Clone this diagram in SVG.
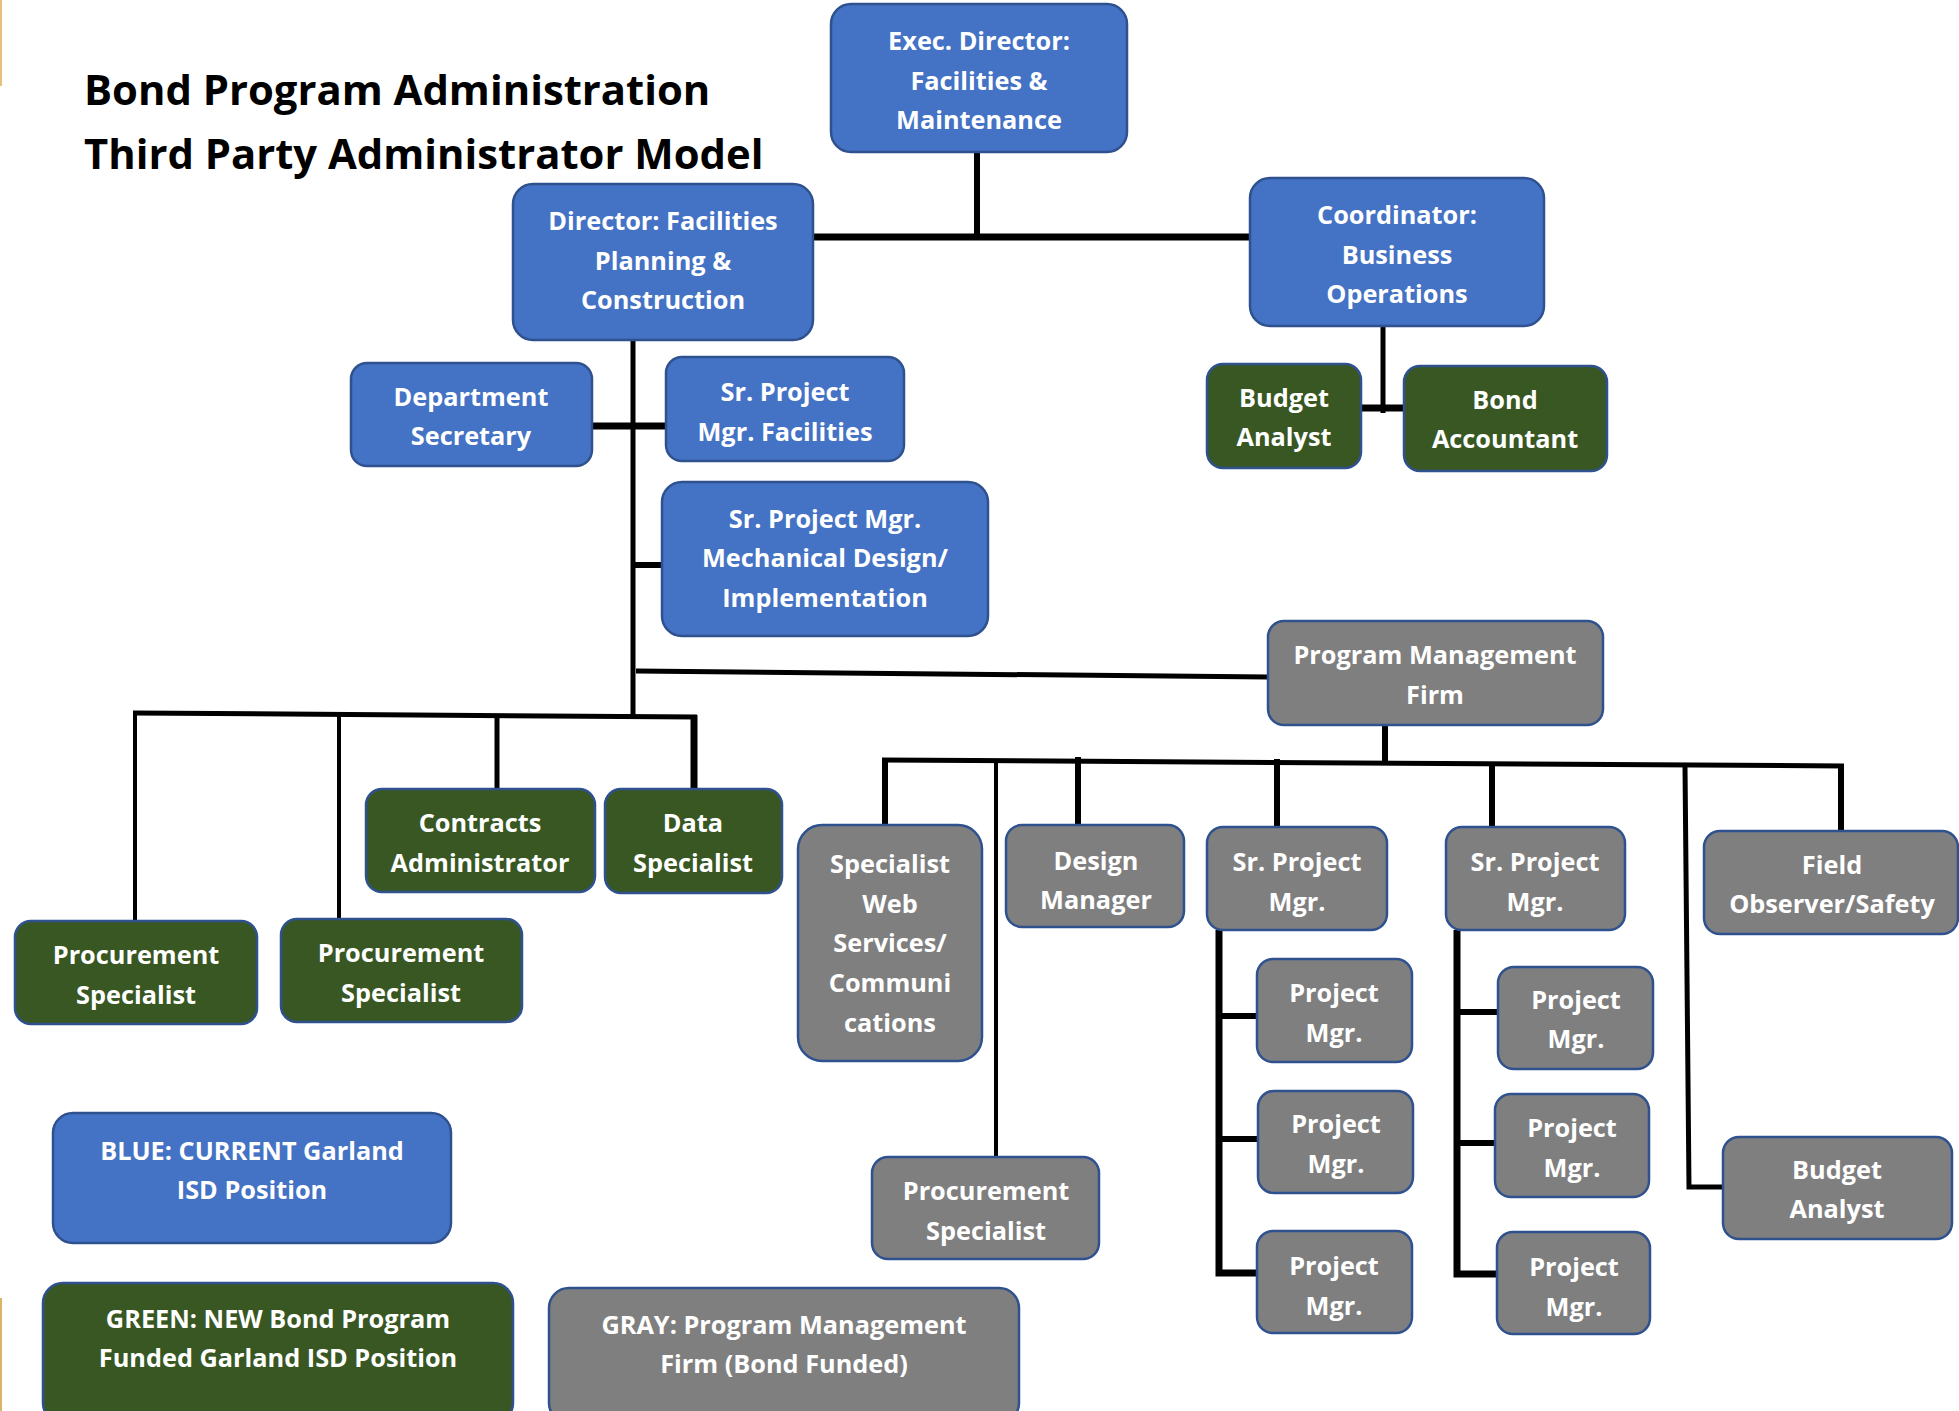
<svg xmlns="http://www.w3.org/2000/svg" width="1959" height="1411" viewBox="0 0 1959 1411">
<style>
.box{stroke:#2F528F;stroke-width:2.5}
.blue{fill:#4472C4}
.green{fill:#385723}
.gray{fill:#7F7F7F}
.t{font-family:"Open Sans","Liberation Sans",sans-serif;font-weight:bold;font-size:25.3px;fill:#FFFFFF;text-anchor:middle}
.title{font-family:"Open Sans","Liberation Sans",sans-serif;font-weight:bold;font-size:41.8px;fill:#000000}
.c{stroke:#000000;fill:none;stroke-linecap:butt;stroke-linejoin:miter}
</style>
<rect width="1959" height="1411" fill="#FFFFFF"/>
<rect x="0" y="0" width="2" height="86" fill="#E6C07C"/>
<rect x="0" y="1298" width="2" height="113" fill="#D9B46A"/>
<g id="title">
<text class="title" x="84" y="105">Bond Program Administration</text>
<text class="title" x="84" y="169">Third Party Administrator Model</text>
</g>
<g id="connectors">
<line class="c" x1="977" y1="152" x2="977" y2="240" stroke-width="6"/>
<line class="c" x1="813" y1="237" x2="1250" y2="237" stroke-width="7"/>
<line class="c" x1="1383" y1="326" x2="1383" y2="413" stroke-width="5"/>
<line class="c" x1="1361" y1="408" x2="1404" y2="408" stroke-width="7"/>
<line class="c" x1="633" y1="340" x2="633" y2="716" stroke-width="5"/>
<line class="c" x1="592" y1="426" x2="666" y2="426" stroke-width="7"/>
<line class="c" x1="633" y1="565" x2="662" y2="565" stroke-width="6"/>
<line class="c" x1="636" y1="671" x2="1268" y2="677" stroke-width="5"/>
<line class="c" x1="133" y1="713" x2="697" y2="717" stroke-width="5"/>
<line class="c" x1="135" y1="711" x2="135" y2="921" stroke-width="4"/>
<line class="c" x1="339" y1="714" x2="339" y2="919" stroke-width="4"/>
<line class="c" x1="497" y1="715" x2="497" y2="789" stroke-width="5"/>
<line class="c" x1="694" y1="715" x2="694" y2="789" stroke-width="7"/>
<line class="c" x1="1385" y1="725" x2="1385" y2="764" stroke-width="6"/>
<line class="c" x1="882" y1="760" x2="1844" y2="766" stroke-width="5"/>
<line class="c" x1="885" y1="758" x2="885" y2="825" stroke-width="6"/>
<line class="c" x1="996" y1="763" x2="996" y2="1157" stroke-width="4"/>
<line class="c" x1="1078" y1="757" x2="1078" y2="825" stroke-width="6"/>
<line class="c" x1="1277" y1="759" x2="1277" y2="827" stroke-width="6"/>
<line class="c" x1="1492" y1="763" x2="1492" y2="830" stroke-width="6"/>
<line class="c" x1="1841" y1="764" x2="1841" y2="831" stroke-width="6"/>
<polyline class="c" points="1685,766 1689,1187 1723,1187" stroke-width="5"/>
<polyline class="c" points="1219,930 1219,1273 1257,1273" stroke-width="7"/>
<line class="c" x1="1219" y1="1016" x2="1257" y2="1016" stroke-width="6"/>
<line class="c" x1="1219" y1="1139" x2="1258" y2="1139" stroke-width="6"/>
<polyline class="c" points="1457,930 1457,1274 1497,1274" stroke-width="7"/>
<line class="c" x1="1457" y1="1012" x2="1498" y2="1012" stroke-width="6"/>
<line class="c" x1="1457" y1="1143" x2="1495" y2="1143" stroke-width="6"/>
</g>
<g id="exec-director">
<rect class="box blue" x="831" y="4" width="296" height="148" rx="20"/>
<text class="t" x="979" y="50">Exec. Director:</text>
<text class="t" x="979" y="90">Facilities &amp;</text>
<text class="t" x="979" y="129">Maintenance</text>
</g>
<g id="director">
<rect class="box blue" x="513" y="184" width="300" height="156" rx="20"/>
<text class="t" x="663" y="230">Director: Facilities</text>
<text class="t" x="663" y="270">Planning &amp;</text>
<text class="t" x="663" y="309">Construction</text>
</g>
<g id="coordinator">
<rect class="box blue" x="1250" y="178" width="294" height="148" rx="20"/>
<text class="t" x="1397" y="224">Coordinator:</text>
<text class="t" x="1397" y="264">Business</text>
<text class="t" x="1397" y="303">Operations</text>
</g>
<g id="budget-analyst-green">
<rect class="box green" x="1207" y="364" width="154" height="104" rx="16"/>
<text class="t" x="1284" y="407">Budget</text>
<text class="t" x="1284" y="446">Analyst</text>
</g>
<g id="bond-accountant">
<rect class="box green" x="1404" y="366" width="203" height="105" rx="16"/>
<text class="t" x="1505" y="409">Bond</text>
<text class="t" x="1505" y="448">Accountant</text>
</g>
<g id="department-secretary">
<rect class="box blue" x="351" y="363" width="241" height="103" rx="16"/>
<text class="t" x="471" y="406">Department</text>
<text class="t" x="471" y="445">Secretary</text>
</g>
<g id="sr-pm-facilities">
<rect class="box blue" x="666" y="357" width="238" height="104" rx="16"/>
<text class="t" x="785" y="401">Sr. Project</text>
<text class="t" x="785" y="441">Mgr. Facilities</text>
</g>
<g id="sr-pm-mechanical">
<rect class="box blue" x="662" y="482" width="326" height="154" rx="20"/>
<text class="t" x="825" y="528">Sr. Project Mgr.</text>
<text class="t" x="825" y="567">Mechanical Design/</text>
<text class="t" x="825" y="607">Implementation</text>
</g>
<g id="program-management-firm">
<rect class="box gray" x="1268" y="621" width="335" height="104" rx="16"/>
<text class="t" x="1435" y="664">Program Management</text>
<text class="t" x="1435" y="704">Firm</text>
</g>
<g id="contracts-administrator">
<rect class="box green" x="366" y="789" width="229" height="103" rx="16"/>
<text class="t" x="480" y="832">Contracts</text>
<text class="t" x="480" y="872">Administrator</text>
</g>
<g id="data-specialist">
<rect class="box green" x="605" y="789" width="177" height="104" rx="16"/>
<text class="t" x="693" y="832">Data</text>
<text class="t" x="693" y="872">Specialist</text>
</g>
<g id="procurement-specialist-1">
<rect class="box green" x="15" y="921" width="242" height="103" rx="16"/>
<text class="t" x="136" y="964">Procurement</text>
<text class="t" x="136" y="1004">Specialist</text>
</g>
<g id="procurement-specialist-2">
<rect class="box green" x="281" y="919" width="241" height="103" rx="16"/>
<text class="t" x="401" y="962">Procurement</text>
<text class="t" x="401" y="1002">Specialist</text>
</g>
<g id="specialist-web">
<rect class="box gray" x="798" y="825" width="184" height="236" rx="24"/>
<text class="t" x="890" y="873">Specialist</text>
<text class="t" x="890" y="913">Web</text>
<text class="t" x="890" y="952">Services/</text>
<text class="t" x="890" y="992">Communi</text>
<text class="t" x="890" y="1032">cations</text>
</g>
<g id="design-manager">
<rect class="box gray" x="1006" y="825" width="178" height="102" rx="16"/>
<text class="t" x="1096" y="870">Design</text>
<text class="t" x="1096" y="909">Manager</text>
</g>
<g id="sr-pm-1">
<rect class="box gray" x="1207" y="827" width="180" height="103" rx="16"/>
<text class="t" x="1297" y="871">Sr. Project</text>
<text class="t" x="1297" y="911">Mgr.</text>
</g>
<g id="sr-pm-2">
<rect class="box gray" x="1446" y="827" width="179" height="103" rx="16"/>
<text class="t" x="1535" y="871">Sr. Project</text>
<text class="t" x="1535" y="911">Mgr.</text>
</g>
<g id="field-observer">
<rect class="box gray" x="1704" y="831" width="254" height="103" rx="16"/>
<text class="t" x="1832" y="874">Field</text>
<text class="t" x="1832" y="913">Observer/Safety</text>
</g>
<g id="pm-1a">
<rect class="box gray" x="1257" y="959" width="155" height="103" rx="16"/>
<text class="t" x="1334" y="1002">Project</text>
<text class="t" x="1334" y="1042">Mgr.</text>
</g>
<g id="pm-1b">
<rect class="box gray" x="1258" y="1091" width="155" height="102" rx="16"/>
<text class="t" x="1336" y="1133">Project</text>
<text class="t" x="1336" y="1173">Mgr.</text>
</g>
<g id="pm-1c">
<rect class="box gray" x="1257" y="1231" width="155" height="102" rx="16"/>
<text class="t" x="1334" y="1275">Project</text>
<text class="t" x="1334" y="1315">Mgr.</text>
</g>
<g id="pm-2a">
<rect class="box gray" x="1498" y="967" width="155" height="102" rx="16"/>
<text class="t" x="1576" y="1009">Project</text>
<text class="t" x="1576" y="1048">Mgr.</text>
</g>
<g id="pm-2b">
<rect class="box gray" x="1495" y="1094" width="154" height="103" rx="16"/>
<text class="t" x="1572" y="1137">Project</text>
<text class="t" x="1572" y="1177">Mgr.</text>
</g>
<g id="pm-2c">
<rect class="box gray" x="1497" y="1232" width="153" height="102" rx="16"/>
<text class="t" x="1574" y="1276">Project</text>
<text class="t" x="1574" y="1316">Mgr.</text>
</g>
<g id="procurement-specialist-gray">
<rect class="box gray" x="872" y="1157" width="227" height="102" rx="16"/>
<text class="t" x="986" y="1200">Procurement</text>
<text class="t" x="986" y="1240">Specialist</text>
</g>
<g id="budget-analyst-gray">
<rect class="box gray" x="1723" y="1137" width="229" height="102" rx="16"/>
<text class="t" x="1837" y="1179">Budget</text>
<text class="t" x="1837" y="1218">Analyst</text>
</g>
<g id="legend-blue">
<rect class="box blue" x="53" y="1113" width="398" height="130" rx="20"/>
<text class="t" x="252" y="1160">BLUE: CURRENT Garland</text>
<text class="t" x="252" y="1199">ISD Position</text>
</g>
<g id="legend-green">
<rect class="box green" x="43" y="1283" width="470" height="140" rx="20"/>
<text class="t" x="278" y="1328">GREEN: NEW Bond Program</text>
<text class="t" x="278" y="1367">Funded Garland ISD Position</text>
</g>
<g id="legend-gray">
<rect class="box gray" x="549" y="1288" width="470" height="135" rx="20"/>
<text class="t" x="784" y="1334">GRAY: Program Management</text>
<text class="t" x="784" y="1373">Firm (Bond Funded)</text>
</g>
</svg>
